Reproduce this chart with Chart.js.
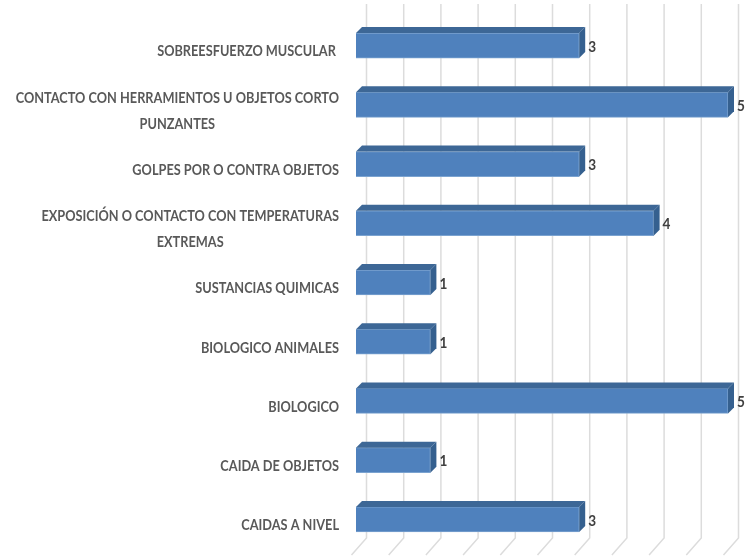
<!DOCTYPE html>
<html>
<head>
<meta charset="utf-8">
<script src="https://cdn.jsdelivr.net/npm/chart.js@4"></script>
<style>
  html, body { margin: 0; padding: 0; background: #fff; }
  canvas { display: block; filter: blur(0.5px); }
</style>
</head>
<body>
<canvas id="riesgosChart" width="752" height="560"></canvas>
<script>
// Categories top to bottom, long ones split the way the picture wraps them
const categories = [
    ['SOBREESFUERZO MUSCULAR '],
    ['CONTACTO CON HERRAMIENTOS U OBJETOS CORTO', 'PUNZANTES'],
    ['GOLPES POR O CONTRA OBJETOS'],
    ['EXPOSICIÓN O CONTACTO CON TEMPERATURAS', 'EXTREMAS'],
    ['SUSTANCIAS QUIMICAS'],
    ['BIOLOGICO ANIMALES'],
    ['BIOLOGICO'],
    ['CAIDA DE OBJETOS'],
    ['CAIDAS A NIVEL']
];
const values = [3, 5, 3, 4, 1, 1, 5, 1, 3];

const labelFont = 'bold 15px Lato, "Liberation Sans", sans-serif';
const valueFont = 'bold 16px Lato, "Liberation Sans", sans-serif';
// no condensed face installed, so squeeze the text sideways with fillText's maxWidth
const labelSqueeze = 0.85;

// Back wall of the fake 3D plot: gridlines pushed up and right, floor lines going down left
const wallPlugin = {
    id: 'wall',
    beforeDatasetsDraw(chart) {
        const { ctx, chartArea, scales } = chart;
        ctx.save();
        ctx.strokeStyle = '#dcdcdc';
        ctx.lineWidth = 1.5;
        scales.x.ticks.forEach((t, i) => {
            const x = scales.x.getPixelForTick(i) + 10.5;
            ctx.beginPath();
            ctx.moveTo(x, chartArea.top - 12);
            ctx.lineTo(x, chartArea.bottom - 11);
            ctx.lineTo(x - 15, chartArea.bottom + 6);
            ctx.stroke();
        });
        ctx.restore();
    }
};

// Top and side faces of each bar, value labels and the category labels
const facesPlugin = {
    id: 'faces',
    afterDatasetsDraw(chart) {
        const { ctx, scales } = chart;
        const depth = 6;
        ctx.save();
        chart.getDatasetMeta(0).data.forEach((bar, i) => {
            const top = bar.y - bar.height / 2;
            const bottom = bar.y + bar.height / 2;
            const left = bar.base;
            const right = bar.x;

            ctx.fillStyle = '#3d6796';
            ctx.beginPath();
            ctx.moveTo(left, top);
            ctx.lineTo(left + depth, top - depth);
            ctx.lineTo(right + depth, top - depth);
            ctx.lineTo(right, top);
            ctx.closePath();
            ctx.fill();

            ctx.fillStyle = '#35608f';
            ctx.beginPath();
            ctx.moveTo(right, top);
            ctx.lineTo(right + depth, top - depth);
            ctx.lineTo(right + depth, bottom - depth);
            ctx.lineTo(right, bottom);
            ctx.closePath();
            ctx.fill();

            ctx.fillStyle = '#404040';
            ctx.font = valueFont;
            ctx.textAlign = 'left';
            ctx.textBaseline = 'middle';
            const text = String(values[i]);
            ctx.fillText(text, right + depth + 3, bar.y + 1, ctx.measureText(text).width * labelSqueeze);
        });

        // Wrapped labels: block sits against the axis, lines centred inside the block
        ctx.font = labelFont;
        ctx.fillStyle = '#595959';
        ctx.textBaseline = 'middle';
        ctx.textAlign = 'center';
        const labelRight = 339;
        const labelDrop = 6;
        const lineHeight = 26;
        categories.forEach((lines, i) => {
            const widest = Math.max(...lines.map(l => ctx.measureText(l).width)) * labelSqueeze;
            const cx = labelRight - widest / 2;
            const y = scales.y.getPixelForTick(i) + labelDrop;
            lines.forEach((line, j) => {
                const w = ctx.measureText(line).width * labelSqueeze;
                ctx.fillText(line, cx, y + (j - (lines.length - 1) / 2) * lineHeight, w);
            });
        });
        ctx.restore();
    }
};

new Chart(document.getElementById('riesgosChart'), {
    type: 'bar',
    data: {
        labels: categories,
        datasets: [{
            data: values,
            backgroundColor: '#4f81bd',
            borderColor: '#7ba3d0',
            borderWidth: 1,
            barThickness: 25
        }]
    },
    options: {
        indexAxis: 'y',
        responsive: false,
        animation: false,
        layout: { padding: { left: 348, right: 24, top: 16, bottom: 3 } },
        plugins: { legend: { display: false }, tooltip: { enabled: false } },
        scales: {
            x: {
                min: 0,
                max: 5,
                ticks: { stepSize: 0.5, display: false },
                grid: { display: false },
                border: { display: false }
            },
            y: {
                ticks: { display: false },
                grid: { display: false },
                border: { display: false }
            }
        }
    },
    plugins: [wallPlugin, facesPlugin]
});
</script>
</body>
</html>
